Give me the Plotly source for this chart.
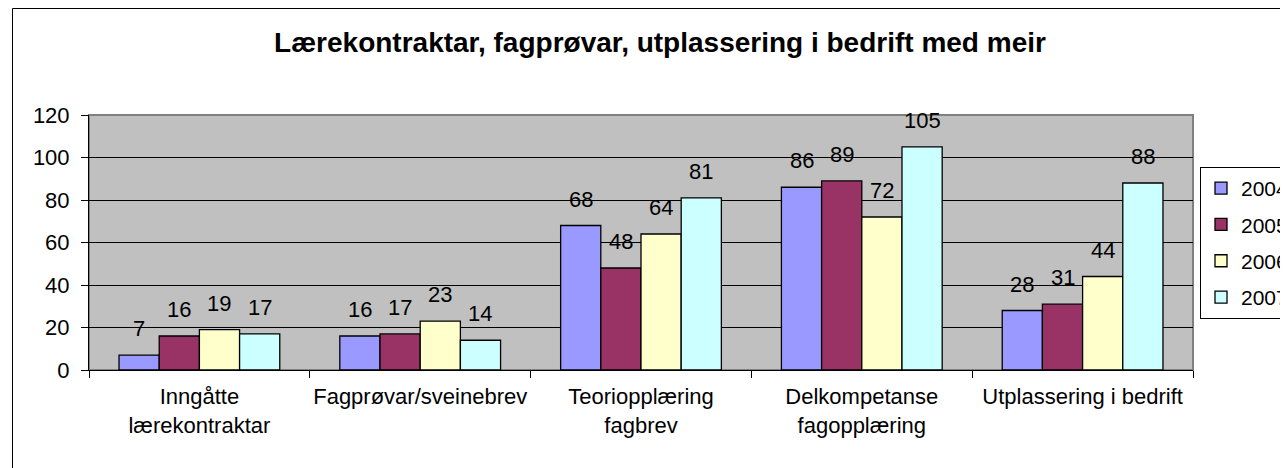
import plotly.graph_objects as go

categories = ["Inngåtte<br>lærekontraktar", "Fagprøvar/sveinebrev",
              "Teoriopplæring<br>fagbrev", "Delkompetanse<br>fagopplæring",
              "Utplassering i bedrift"]
years = ["2004", "2005", "2006", "2007"]
values_2004 = [7, 16, 68, 86, 28]
values_2005 = [16, 17, 48, 89, 31]
values_2006 = [19, 23, 64, 72, 44]
values_2007 = [17, 14, 81, 105, 88]
series = [values_2004, values_2005, values_2006, values_2007]
colors = ["#9999FF", "#993366", "#FFFFCC", "#CCFFFF"]
title_text = "Lærekontraktar, fagprøvar, utplassering i bedrift med meir"
y_ticks = [0, 20, 40, 60, 80, 100, 120]

FONT = "Arial, Liberation Sans, sans-serif"
W, H = 1288, 468
OFF = 8  # the page body has an 8px margin; lay out in screen coordinates
L, R, T, B = 89 - OFF, 1193 - OFF, 115 - OFF, 370 - OFF
BARGAP = 0.272

fig = go.Figure()
for yr, vals, col in zip(years, series, colors):
    fig.add_trace(go.Bar(
        name=yr, x=categories, y=vals,
        marker=dict(color=col, line=dict(color="black", width=1.3)),
        legendgroup=yr,
    ))

# data labels above each bar
n = len(series)
gw = 1 - BARGAP
for j, vals in enumerate(series):
    for i, v in enumerate(vals):
        fig.add_annotation(
            x=i - gw / 2 + gw / n * (j + 0.5), y=v, xref="x", yref="y",
            text=str(v), showarrow=False, yanchor="bottom", yshift=12,
            font=dict(family=FONT, size=22, color="black"),
        )

pw, ph = R - L, B - T
# outer chart border
fig.add_shape(type="rect", xref="paper", yref="paper",
              x0=(12.5 - OFF - L) / pw, x1=(W + 20 - L) / pw,
              y0=(B - (H + 20)) / ph, y1=(B - (8.5 - OFF)) / ph,
              line=dict(color="black", width=1), layer="below")
# plot area border
fig.add_shape(type="rect", xref="paper", yref="paper", x0=0, x1=1, y0=0, y1=1,
              line=dict(color="#808080", width=2), layer="below")

fig.update_layout(
    width=W, height=H,
    margin=dict(l=L, r=W - R, t=T, b=H - B, pad=0, autoexpand=False),
    paper_bgcolor="white", plot_bgcolor="#C0C0C0",
    barmode="group", bargap=BARGAP, bargroupgap=0,
    font=dict(family=FONT, size=22, color="black"),
    title=dict(text="<b>" + title_text + "</b>", x=(660 - OFF) / W, xanchor="center",
               xref="container", y=1 - (42 - OFF) / H, yanchor="middle",
               font=dict(family=FONT, size=28, color="black")),
    showlegend=True,
    legend=dict(x=(1200 - OFF - L) / pw, xanchor="left", y=(B - (167 - OFF)) / ph,
                yanchor="top",
                bgcolor="white", bordercolor="black", borderwidth=1,
                font=dict(family=FONT, size=21, color="black"),
                traceorder="grouped", tracegroupgap=6, itemwidth=30),
    xaxis=dict(showline=True, linecolor="black", linewidth=1, tickangle=0,
               automargin=False,
               ticks="outside", ticklen=7, tickcolor="black", tickson="boundaries",
               showgrid=False, tickfont=dict(family=FONT, size=22, color="black"),
               ticklabelstandoff=7),
    yaxis=dict(range=[0, 120], tickvals=y_ticks, showline=True, linecolor="black",
               linewidth=1, ticks="outside", ticklen=7, tickcolor="black",
               automargin=False,
               showgrid=True, gridcolor="black", gridwidth=1, zeroline=False,
               tickfont=dict(family=FONT, size=22, color="black"),
               ticklabelstandoff=7),
)

fig.write_html("out.html")
